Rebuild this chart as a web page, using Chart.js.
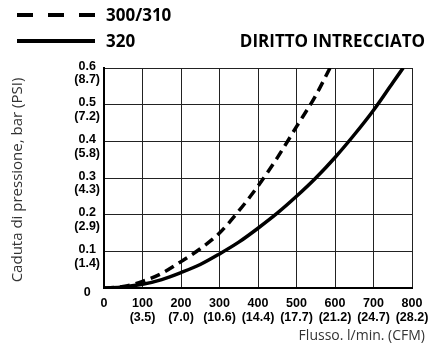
<!DOCTYPE html>
<html lang="it">
<head>
<meta charset="UTF-8" />
<title>Diritto intrecciato - caduta di pressione</title>
<script src="https://cdn.jsdelivr.net/npm/chart.js"></script>
<style>
  html, body { margin: 0; padding: 0; background: #fff; }
  #wrap { position: relative; width: 441px; height: 347px; }
</style>
</head>
<body>
<div id="wrap"><canvas id="flowChart" width="441" height="347"></canvas></div>

<script>
// flow in l/min and pressure drop in bar
const flow320 = [0, 50, 100, 150, 200, 250, 300, 350, 400, 450, 500, 550, 600, 650, 700, 750, 777];
const drop320 = [0, 0.003, 0.01, 0.023, 0.042, 0.064, 0.093, 0.125, 0.163, 0.204, 0.25, 0.3, 0.356, 0.418, 0.485, 0.56, 0.6];

const flow300 = [0, 50, 100, 150, 200, 250, 300, 350, 400, 450, 500, 550, 587];
const drop300 = [0, 0.004, 0.018, 0.04, 0.072, 0.107, 0.15, 0.21, 0.278, 0.355, 0.44, 0.525, 0.6];

// tick labels: metric value on top, imperial in brackets underneath
const xTicks = [0, 100, 200, 300, 400, 500, 600, 700, 800];
const xCfm = ['', '(3.5)', '(7.0)', '(10.6)', '(14.4)', '(17.7)', '(21.2)', '(24.7)', '(28.2)'];
const yTicks = [0, 0.1, 0.2, 0.3, 0.4, 0.5, 0.6];
const yPsi = ['', '(1.4)', '(2.9)', '(4.3)', '(5.8)', '(7.2)', '(8.7)'];

const toPoints = (xs, ys) => xs.map((x, i) => ({ x: x, y: ys[i] }));

const tickFont = { family: '"Liberation Sans", Arial, sans-serif', size: 12.5, weight: 'bold', lineHeight: 1.1 };

// legend, title and axis captions drawn straight onto the canvas
const captions = {
  id: 'captions',
  afterDraw(chart) {
    const ctx = chart.ctx;
    ctx.save();
    ctx.fillStyle = '#000';
    ctx.textBaseline = 'middle';

    const rows = [15, 41];
    chart.data.datasets.forEach((ds, i) => {
      const y = rows[i];
      ctx.strokeStyle = '#000';
      ctx.lineWidth = 4;
      ctx.setLineDash(ds.borderDash ? [16, 15] : []);
      ctx.beginPath();
      ctx.moveTo(17, y);
      ctx.lineTo(95, y);
      ctx.stroke();
      ctx.setLineDash([]);
      ctx.font = 'bold 17px "Open Sans", sans-serif';
      ctx.textAlign = 'left';
      ctx.fillText(ds.label, 106, y + 1);
    });

    ctx.font = 'bold 17px "Open Sans", sans-serif';
    ctx.textAlign = 'right';
    ctx.fillText('DIRITTO INTRECCIATO', 425, 42);

    ctx.fillStyle = '#333';
    ctx.font = '14px "Open Sans", sans-serif';
    ctx.textAlign = 'right';
    ctx.fillText('Flusso. l/min. (CFM)', 425, 336);

    ctx.translate(18, 180);
    ctx.rotate(-Math.PI / 2);
    ctx.textAlign = 'center';
    ctx.font = '15px "Open Sans", sans-serif';
    ctx.fillText('Caduta di pressione, bar (PSI)', 0, 0);
    ctx.restore();
  }
};

new Chart(document.getElementById('flowChart'), {
  type: 'line',
  data: {
    datasets: [
      {
        label: '300/310',
        data: toPoints(flow300, drop300),
        borderColor: '#000',
        borderWidth: 3.5,
        borderDash: [10, 6],
        pointRadius: 0,
        cubicInterpolationMode: 'monotone'
      },
      {
        label: '320',
        data: toPoints(flow320, drop320),
        borderColor: '#000',
        borderWidth: 3.5,
        pointRadius: 0,
        cubicInterpolationMode: 'monotone'
      }
    ]
  },
  options: {
    responsive: false,
    animation: false,
    layout: { padding: { top: 68, right: 29, left: 0, bottom: 0 } },
    plugins: { legend: { display: false }, tooltip: { enabled: false } },
    scales: {
      x: {
        type: 'linear',
        min: 0,
        max: 800,
        afterFit: (scale) => { scale.height = 59; },
        afterBuildTicks: (scale) => { scale.ticks = xTicks.map(v => ({ value: v })); },
        grid: { color: '#222', lineWidth: 1, drawTicks: false },
        border: { color: '#000', width: 2 },
        ticks: {
          color: '#000',
          font: tickFont,
          padding: 9,
          maxRotation: 0,
          callback: (v) => {
            const i = xTicks.indexOf(v);
            return xCfm[i] ? [String(v), xCfm[i]] : String(v);
          }
        }
      },
      y: {
        min: 0,
        max: 0.6,
        afterFit: (scale) => { scale.width = 104; },
        afterBuildTicks: (scale) => { scale.ticks = yTicks.map(v => ({ value: v })); },
        grid: { color: '#222', lineWidth: 1, drawTicks: false },
        border: { color: '#000', width: 2 },
        ticks: {
          color: '#000',
          font: tickFont,
          padding: 4,
          crossAlign: 'center',
          labelOffset: 5,
          callback: (v) => {
            const i = yTicks.indexOf(v);
            return yPsi[i] ? [String(v), yPsi[i]] : String(v);
          }
        }
      }
    }
  },
  plugins: [captions]
});
</script>
</body>
</html>
